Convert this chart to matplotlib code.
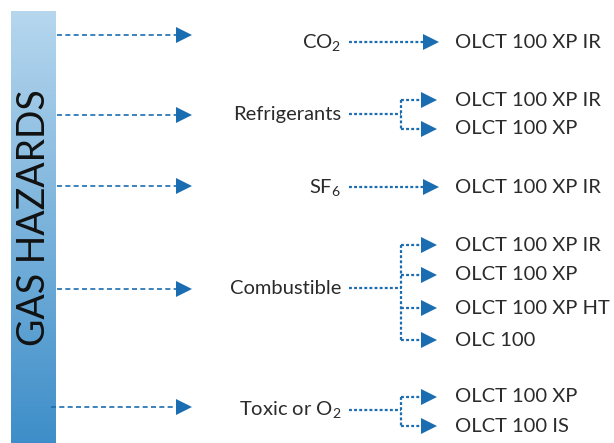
import numpy as np
import matplotlib.pyplot as plt
from matplotlib.colors import LinearSegmentedColormap

plt.rcParams['font.family'] = ['Lato', 'DejaVu Sans']
plt.rcParams['mathtext.default'] = 'regular'

# data
title = 'GAS HAZARDS'
hazards = ['CO$_2$', 'Refrigerants', 'SF$_6$', 'Combustible', 'Toxic or O$_2$']
products = [
    ['OLCT 100 XP IR'],
    ['OLCT 100 XP IR', 'OLCT 100 XP'],
    ['OLCT 100 XP IR'],
    ['OLCT 100 XP IR', 'OLCT 100 XP', 'OLCT 100 XP HT', 'OLC 100'],
    ['OLCT 100 XP', 'OLCT 100 IS'],
]

# layout (pixels)
row_y = [42, 114, 187, 288, 410]
left_y = [35, 115, 186, 289, 407]
prod_y = [[42], [100, 129], [187], [245, 275, 308, 340], [397, 426]]
blue = '#1a6db0'
text_c = '#2b2b2b'

fig = plt.figure(figsize=(6.14, 4.43), dpi=100)
ax = fig.add_axes([0, 0, 1, 1])
ax.set_xlim(0, 614)
ax.set_ylim(443, 0)
ax.axis('off')

# gradient bar
cmap = LinearSegmentedColormap.from_list('bar', ['#b6d7ee', '#3e8ec9'])
grad = np.linspace(0, 1, 256).reshape(-1, 1)
ax.imshow(grad, cmap=cmap, extent=[11, 56, 443, 11], aspect='auto', zorder=1)
ax.text(34, 218, title, rotation=90, ha='center', va='center', fontsize=27,
        color='#111111', zorder=2)

def arrow(x0, x1, y, dashes, lw):
    ax.plot([x0, x1 - 12], [y, y], color=blue, lw=lw, dashes=dashes,
            solid_capstyle='butt', zorder=3)
    ax.plot([x1 - 8], [y], marker='>', markersize=11, color=blue,
            markeredgewidth=0, zorder=4)

dot = [1.3, 1.0]
for i, name in enumerate(hazards):
    arrow(57 if i < 4 else 51, 192, left_y[i], [3, 2], 1.2)
    ax.text(341, row_y[i], name, ha='right', va='center', fontsize=14.5,
            color=text_c)
    ys = prod_y[i]
    if len(ys) == 1:
        arrow(349, 439, ys[0], dot, 1.6)
    else:
        ax.plot([349, 401], [row_y[i], row_y[i]], color=blue, lw=1.6,
                dashes=dot, zorder=3)
        ax.plot([401, 401], [min(ys), max(ys)], color=blue, lw=1.6,
                dashes=dot, zorder=3)
        for y in ys:
            arrow(401, 437, y, dot, 1.6)
    for y, p in zip(ys, products[i]):
        ax.text(455, y, p, ha='left', va='center', fontsize=14.5, color=text_c)

fig.savefig('out.png', dpi=100)
